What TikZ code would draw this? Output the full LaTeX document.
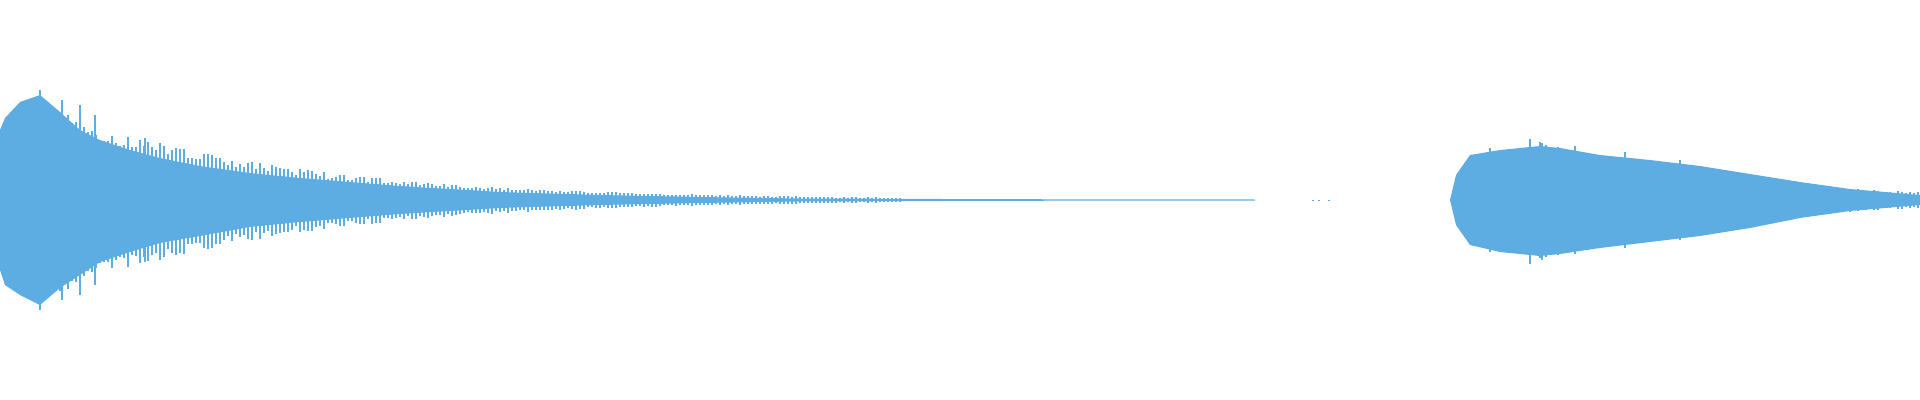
\documentclass[tikz,border=0pt]{standalone}
\usepackage{tikz}
\definecolor{wave}{HTML}{5DADE2}
\begin{document}
\begin{tikzpicture}[x=0.01cm,y=-0.01cm]
\useasboundingbox (0,0) rectangle (1920,400);
\pgfmathsetseed{7}
% first burst
\fill[wave] (0,200) -- (0,270) -- (5,285) -- (20,295) -- (40,305) -- (60,288) -- (80,275) -- (100,262) -- (130,252) -- (160,243) -- (200,236) -- (250,227) -- (300,222) -- (350,218) -- (400,214) -- (450,211) -- (500,208) -- (600,205) -- (700,203) -- (800,201.5) -- (1000,200.8) -- (1255,200.5)
 -- (1255,199.5) -- (1000,199.2) -- (800,198.5) -- (700,197) -- (600,195) -- (500,192) -- (450,189) -- (400,186) -- (350,182) -- (300,178) -- (250,173) -- (200,166) -- (160,158) -- (130,150) -- (100,140) -- (80,130) -- (60,112) -- (40,95) -- (20,102) -- (5,118) -- (0,130) -- cycle;
% second burst
\fill[wave] (1450,200) -- (1456,225) -- (1470,245) -- (1500,252) -- (1540,256) -- (1560,254) -- (1600,248) -- (1650,242) -- (1700,236) -- (1750,228) -- (1800,218) -- (1850,211) -- (1920,205)
 -- (1920,195) -- (1850,189) -- (1800,182) -- (1750,174) -- (1700,166) -- (1650,160) -- (1600,155) -- (1560,148) -- (1540,146) -- (1500,150) -- (1470,155) -- (1456,175) -- cycle;
% texture
\foreach \x in {40,44,...,900} {
  \pgfmathsetmacro\a{105*exp(-\x/230)*(0.85+0.25*rnd)}
  \draw[wave,line width=0.4pt] (\x,200-\a) -- (\x,200+1.05*\a);
}
\foreach \x in {1530,1534,...,1920} {
  \pgfmathsetmacro\a{56*exp(-(\x-1530)/190)*(0.85+0.25*rnd)}
  \draw[wave,line width=0.4pt] (\x,200-\a) -- (\x,200+1.05*\a);
}
% spikes
\foreach \x/\a in {40/110,62/100,80/95,95/85,145/62,1490/52,1540/58,1575/54,1625/48,1680/40} {
  \draw[wave,line width=0.6pt] (\x,200-\a) -- (\x,200+\a);
}
% stray dots
\foreach \x in {1312,1318,1328} {\fill[wave] (\x,199.5) rectangle (\x+2,200.5);}
\end{tikzpicture}
\end{document}
